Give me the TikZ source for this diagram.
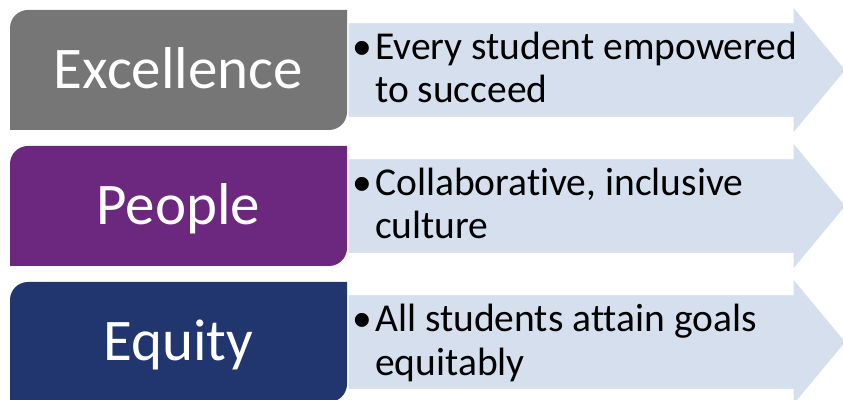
\documentclass[tikz,border=0pt]{standalone}
\usepackage{fontspec}
\setmainfont[Ligatures=NoCommon]{Carlito}
\definecolor{exgray}{HTML}{767676}
\definecolor{pepurple}{HTML}{6C287E}
\definecolor{eqnavy}{HTML}{21366F}
\definecolor{arrowblue}{HTML}{D5DFEE}
\tikzset{
  bigtext/.style={text=white, inner sep=0pt, font=\fontsize{59}{64}\selectfont, anchor=base},
  bullettext/.style={text=black, inner sep=0pt, font=\fontsize{39.5}{43.5}\selectfont, anchor=base west, align=left},
  arrowshape/.style={fill=arrowblue, draw=white, line width=1.2pt, line join=miter},
}
\begin{document}
\begin{tikzpicture}[x=1pt,y=1pt]
\useasboundingbox (0,0) rectangle (843,399);
\clip (0,0) rectangle (843,399);
% arrows (centers Y = 329, 193, 57)
\foreach \c in {329,193,57}{
  \filldraw[arrowshape] (348,\c+47.5) -- (793,\c+47.5) -- (793,\c+64) -- (846,\c) -- (793,\c-64) -- (793,\c-47.5) -- (348,\c-47.5) -- cycle;
}
% boxes
\fill[exgray] (10,269) -- (10,371) arc[start angle=180,end angle=90,radius=18] -- (347,389) -- (347,287) arc[start angle=0,end angle=-90,radius=18] -- cycle;
\fill[pepurple] (10,133) -- (10,235) arc[start angle=180,end angle=90,radius=18] -- (347,253) -- (347,151) arc[start angle=0,end angle=-90,radius=18] -- cycle;
\fill[eqnavy] (10,-3) -- (10,99) arc[start angle=180,end angle=90,radius=18] -- (347,117) -- (347,15) arc[start angle=0,end angle=-90,radius=18] -- cycle;
% labels
\node[bigtext] (ex) at (178.5,310) {Excellence};
\node[bigtext] (pe) at (178.5,174) {People};
\node[bigtext] (eq) at (178.5,38) {Equity};
% bullets
\node[bullettext] (b1) at (352,339) {•};
\node[bullettext] (t1) at (375,296) {Every student empowered\\to succeed};
\node[bullettext] (b2) at (352,203) {•};
\node[bullettext] (t2) at (375,160) {Collaborative, inclusive\\culture};
\node[bullettext] (b3) at (352,67) {•};
\node[bullettext] (t3) at (375,24) {All students attain goals\\equitably};
\end{tikzpicture}
\end{document}
